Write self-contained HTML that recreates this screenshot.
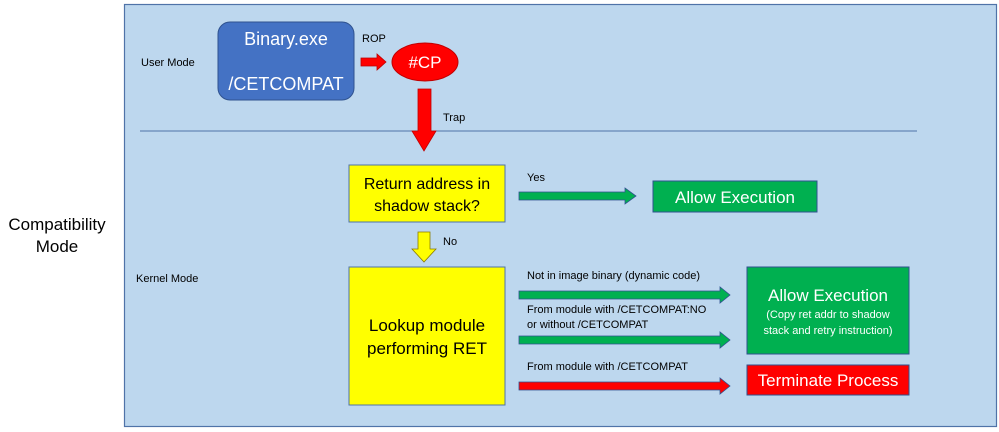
<!DOCTYPE html>
<html><head><meta charset="utf-8"><style>
html,body{margin:0;padding:0;background:#fff;}
svg{display:block;}
text{font-family:"Liberation Sans",sans-serif;}
</style></head><body>
<svg width="999" height="432" viewBox="0 0 999 432" xmlns="http://www.w3.org/2000/svg">
<rect x="124.5" y="4.5" width="872" height="422" fill="#BDD7EE" stroke="#4F73A8" stroke-width="1.2"/>
<text x="57" y="230" font-size="17" text-anchor="middle" fill="#000">Compatibility</text>
<text x="57" y="252" font-size="17" text-anchor="middle" fill="#000">Mode</text>
<text x="141" y="66" font-size="11" fill="#000">User Mode</text>
<text x="136" y="282" font-size="11" fill="#000">Kernel Mode</text>
<line x1="140" y1="131" x2="917" y2="131" stroke="#4F73A8" stroke-width="1"/>
<rect x="218" y="22" width="136" height="78" rx="12" fill="#4472C4" stroke="#2F528F"/>
<text x="286" y="45" font-size="18" text-anchor="middle" fill="#fff">Binary.exe</text>
<text x="286" y="90" font-size="18" text-anchor="middle" fill="#fff">/CETCOMPAT</text>
<text x="362" y="42" font-size="11" fill="#000">ROP</text>
<polygon points="361,58 377,58 377,54 386,62 377,70 377,66 361,66" fill="#f00" stroke="#C00000" stroke-width="0.8"/>
<ellipse cx="425" cy="62" rx="33" ry="19" fill="#f00" stroke="#C00000"/>
<text x="425" y="68" font-size="17" text-anchor="middle" fill="#fff">#CP</text>
<polygon points="418,89 431,89 431,131 436,131 424,151 412,131 418,131" fill="#f00" stroke="#C00000" stroke-width="0.8"/>
<text x="443" y="121" font-size="11" fill="#000">Trap</text>
<rect x="349" y="165" width="156" height="57" fill="#ff0" stroke="#4F73A8"/>
<text x="427" y="189" font-size="16" text-anchor="middle" fill="#000">Return address in</text>
<text x="427" y="211" font-size="16" text-anchor="middle" fill="#000">shadow stack?</text>
<text x="527" y="181" font-size="11" fill="#000">Yes</text>
<polygon points="519,192 625,192 625,188 636,196 625,204 625,200 519,200" fill="#00B050" stroke="#2F528F" stroke-width="0.8"/>
<rect x="653" y="181" width="164" height="31" fill="#00B050" stroke="#2F528F"/>
<text x="735" y="203" font-size="17" text-anchor="middle" fill="#fff">Allow Execution</text>
<polygon points="418,232 430,232 430,249 436,249 424,262 412,249 418,249" fill="#ff0" stroke="#8a7a00" stroke-width="0.8"/>
<text x="443" y="245" font-size="11" fill="#000">No</text>
<rect x="349" y="267" width="156" height="138" fill="#ff0" stroke="#4F73A8"/>
<text x="427" y="331" font-size="17" text-anchor="middle" fill="#000">Lookup module</text>
<text x="427" y="354" font-size="17" text-anchor="middle" fill="#000">performing RET</text>
<text x="527" y="279" font-size="11" fill="#000">Not in image binary (dynamic code)</text>
<polygon points="519,291 720,291 720,287 730,295 720,303 720,299 519,299" fill="#00B050" stroke="#2F528F" stroke-width="0.8"/>
<text x="527" y="313" font-size="11" fill="#000">From module with /CETCOMPAT:NO</text>
<text x="527" y="328" font-size="11" fill="#000">or without /CETCOMPAT</text>
<polygon points="519,336 720,336 720,332 730,340 720,348 720,344 519,344" fill="#00B050" stroke="#2F528F" stroke-width="0.8"/>
<text x="527" y="370" font-size="11" fill="#000">From module with /CETCOMPAT</text>
<polygon points="519,382 720,382 720,378 730,386 720,394 720,390 519,390" fill="#f00" stroke="#2F528F" stroke-width="0.8"/>
<rect x="747" y="267" width="162" height="87" fill="#00B050" stroke="#2F528F"/>
<text x="828" y="301" font-size="17" text-anchor="middle" fill="#fff">Allow Execution</text>
<text x="828" y="318" font-size="11" text-anchor="middle" fill="#fff">(Copy ret addr to shadow</text>
<text x="828" y="334" font-size="11" text-anchor="middle" fill="#fff">stack and retry instruction)</text>
<rect x="747" y="365" width="162" height="30" fill="#f00" stroke="#2F528F"/>
<text x="828" y="386" font-size="17" text-anchor="middle" fill="#fff">Terminate Process</text>
</svg>
</body></html>
